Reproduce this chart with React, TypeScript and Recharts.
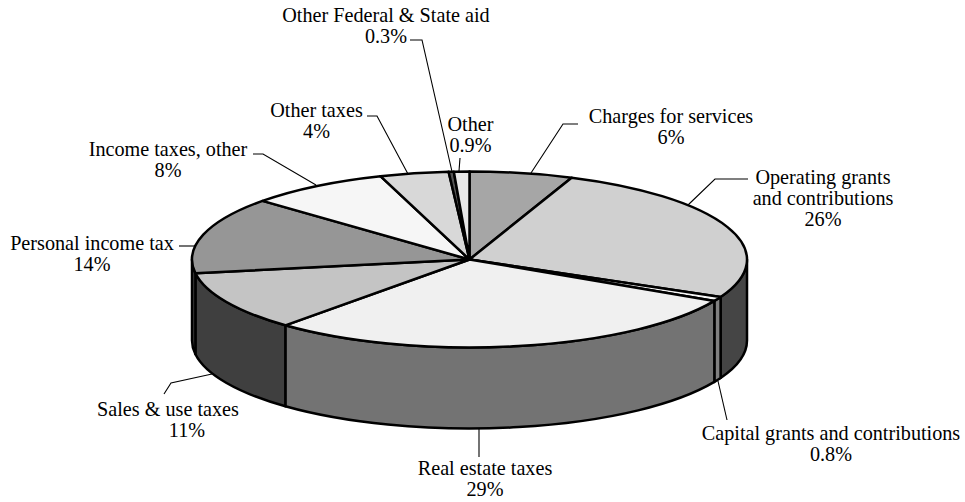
import React from 'react';
import { PieChart, Pie, Cell } from 'recharts';

const names = ['Charges for services', 'Operating grants and contributions', 'Capital grants and contributions', 'Real estate taxes', 'Sales & use taxes', 'Personal income tax', 'Income taxes, other', 'Other taxes', 'Other Federal & State aid', 'Other'];
const values = [6, 26, 0.8, 28.75, 10.95, 14.1, 8.2, 4, 0.3, 0.9];
const topColors = ['#a6a6a6', '#d0d0d0', '#f8f8f8', '#f0f0f0', '#c4c4c4', '#969696', '#f6f6f6', '#d8d8d8', '#555555', '#e8e8e8'];
const wallColors = ['#555555', '#454545', '#808080', '#737373', '#3f3f3f', '#3f3f3f', '#555555', '#555555', '#555555', '#555555'];

const data = names.map((name, i) => ({ name, value: values[i], wall: wallColors[i] }));

const SQUASH = 88 / 277.5;
const DEPTH = 81;
const LINE = 21;

type Caption = { x: number; y: number; lines: string[]; lastDx?: number };
const captions: Caption[] = [
  { x: 386, y: 22, lines: ['Other Federal & State aid', '0.3%'] },
  { x: 470.5, y: 131, lines: ['Other', '0.9%'] },
  { x: 671, y: 123, lines: ['Charges for services', '6%'] },
  { x: 823, y: 184, lines: ['Operating grants', 'and contributions', '26%'] },
  { x: 831, y: 440, lines: ['Capital grants and contributions', '0.8%'] },
  { x: 485, y: 475, lines: ['Real estate taxes', '29%'] },
  { x: 168, y: 416, lines: ['Sales & use taxes', '11%'], lastDx: 19 },
  { x: 92, y: 250, lines: ['Personal income tax', '14%'] },
  { x: 168, y: 156, lines: ['Income taxes, other', '8%'] },
  { x: 316.5, y: 117, lines: ['Other taxes', '4%'] },
];
const leaders = [
  '410,40 422,40 453,176',
  '459,171 460,158',
  '531,173 563,124 578,124',
  '688,205 715,179 748,179',
  '718,381 727,420',
  '479,429 479,457',
  '212,374 171,383 164,394',
  '179,246 195,246',
  '253,154 263,154 316,185',
  '367,116 377,116 408,174',
];

const rad = (d: number) => (d * Math.PI) / 180;

function Slice3D(props: any) {
  const { cx, cy, outerRadius, startAngle, endAngle, fill, payload } = props;
  const rx = outerRadius;
  const ry = outerRadius * SQUASH;
  const pt = (a: number, dy = 0) => [cx + rx * Math.cos(rad(a)), cy - ry * Math.sin(rad(a)) + dy];
  const [sx, sy] = pt(startAngle);
  const [ex, ey] = pt(endAngle);
  const large = Math.abs(endAngle - startAngle) > 180 ? 1 : 0;
  const top = `M${cx},${cy}L${sx},${sy}A${rx},${ry} 0 ${large} 1 ${ex},${ey}Z`;
  // The front of the pie is the angle range 0 to -180.
  const a0 = Math.min(startAngle, 0);
  const a1 = Math.max(endAngle, -180);
  let wall: string | null = null;
  if (a0 > a1) {
    const [ax, ay] = pt(a0);
    const [bx, by] = pt(a1);
    wall = `M${ax},${ay}A${rx},${ry} 0 0 1 ${bx},${by}L${bx},${by + DEPTH}A${rx},${ry} 0 0 0 ${ax},${ay + DEPTH}Z`;
  }
  return (
    <g>
      {wall && <path d={wall} fill={payload?.wall ?? props.wall} stroke="#000" strokeWidth={2.5} strokeLinejoin="round" />}
      <path d={top} fill={fill} stroke="#000" strokeWidth={2.5} strokeLinejoin="round" />
    </g>
  );
}

export default function App() {
  return (
    <div style={{ position: 'absolute', left: 0, top: 0, width: 965, height: 502, background: '#fff' }}>
      <PieChart width={965} height={502} margin={{ top: 0, right: 0, bottom: 0, left: 0 }}>
        <Pie
          data={data}
          dataKey="value"
          nameKey="name"
          cx={469.5}
          cy={259.5}
          innerRadius={0}
          outerRadius={277.5}
          startAngle={90}
          endAngle={-270}
          paddingAngle={0}
          isAnimationActive={false}
          shape={Slice3D}
          label={false}
          labelLine={false}
        >
          {names.map((n, i) => (
            <Cell key={n} fill={topColors[i]} />
          ))}
        </Pie>
        {leaders.map((p) => (
          <polyline key={p} points={p} fill="none" stroke="#000" strokeWidth={1.1} />
        ))}
        {captions.map((c) => (
          <text key={c.lines[0]} x={c.x} y={c.y} textAnchor="middle" fontFamily="'Liberation Serif', serif" fontSize={20.2} fill="#000">
            {c.lines.map((l, i) => (
              <tspan key={l} x={c.x + (i === c.lines.length - 1 ? c.lastDx ?? 0 : 0)} dy={i === 0 ? 0 : LINE}>
                {l}
              </tspan>
            ))}
          </text>
        ))}
      </PieChart>
    </div>
  );
}
